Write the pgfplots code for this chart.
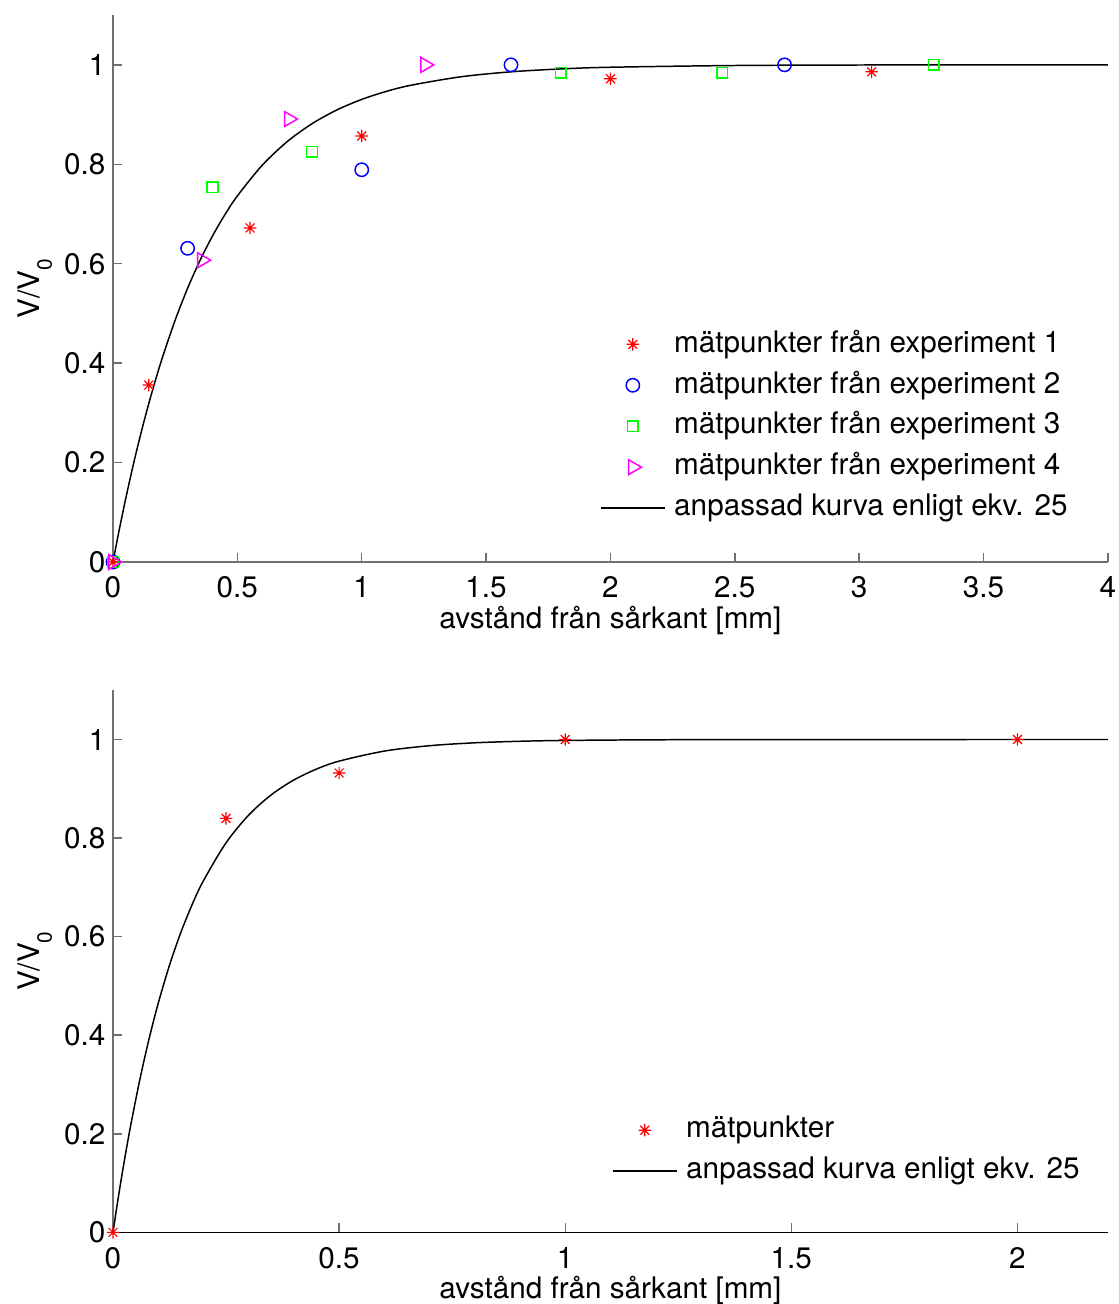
\documentclass[border=0pt]{standalone}
\usepackage{fontspec}
\setmainfont{TeX Gyre Heros}
\usepackage{pgfplots}
\pgfplotsset{compat=1.18}

\definecolor{axgray}{RGB}{112,112,112}
\definecolor{mred}{RGB}{255,0,0}
\definecolor{mblue}{RGB}{0,0,255}
\definecolor{mgreen}{RGB}{0,255,0}
\definecolor{mmag}{RGB}{255,0,255}

% matlab-like 8-spoke asterisk
\pgfdeclareplotmark{mstar}{%
  \pgfpathmoveto{\pgfpoint{-\pgfplotmarksize}{0pt}}%
  \pgfpathlineto{\pgfpoint{\pgfplotmarksize}{0pt}}%
  \pgfpathmoveto{\pgfpoint{0pt}{-\pgfplotmarksize}}%
  \pgfpathlineto{\pgfpoint{0pt}{\pgfplotmarksize}}%
  \pgfpathmoveto{\pgfpoint{-0.7071\pgfplotmarksize}{-0.7071\pgfplotmarksize}}%
  \pgfpathlineto{\pgfpoint{0.7071\pgfplotmarksize}{0.7071\pgfplotmarksize}}%
  \pgfpathmoveto{\pgfpoint{-0.7071\pgfplotmarksize}{0.7071\pgfplotmarksize}}%
  \pgfpathlineto{\pgfpoint{0.7071\pgfplotmarksize}{-0.7071\pgfplotmarksize}}%
  \pgfusepathqstroke}

\pgfplotsset{
  mleg/.style={legend image code/.code={%
    \draw[mark repeat=2,mark phase=2,##1] plot coordinates {(0pt,0pt) (10.7pt,0pt) (21.4pt,0pt)};}},
  lleg/.style={legend image code/.code={\draw[##1] (0pt,0pt) -- (21.4pt,0pt);}},
  base/.style={
    scale only axis, width=335.3pt,
    xmin=0, ymin=0, ymax=1.1,
    axis lines=left, axis line style={-, axgray, line width=0.5pt},
    tick align=inside, major tick length=3.2pt,
    tick style={axgray, line width=0.5pt},
    ytick={0,0.2,0.4,0.6,0.8,1},
    /pgf/number format/assume math mode=true,
    tick label style={font=\fontsize{10}{12}\selectfont, black},
    xticklabel style={yshift=-1.4pt},
    yticklabel style={xshift=1pt},
    label style={font=\fontsize{10}{12}\selectfont},
    ylabel={V/V\raisebox{-4pt}{\fontsize{7}{8}\selectfont 0}},
    xlabel={avstånd från sårkant [mm]},
    ylabel style={at={(axis description cs:-0.0734,0.5)}, anchor=base},
    legend cell align=left,
    legend style={draw=none, fill=none, inner sep=0pt, row sep=0pt,
      font=\fontsize{10}{12}\selectfont,
      nodes={inner xsep=3pt, inner ysep=2.1pt, text height=7.4pt, text depth=2.2pt}},
    every axis plot/.append style={line width=0.5pt},
    star/.style={mark=mstar, mark size=2.1pt, mark options={line width=0.4pt}, mred},
  },
}

\begin{document}
\begin{tikzpicture}
\begin{axis}[base, name=top, height=184.3pt, xmax=4,
  xtick={0,0.5,1,1.5,2,2.5,3,3.5,4},
  xlabel style={at={(axis description cs:0.5,-0.121)}, anchor=base},
  legend style={at={(0.969,0.060)}, anchor=south east}]
 \addplot[only marks, mleg, star] coordinates {
  (0,0) (0.144,0.356) (0.551,0.672) (1.0,0.857) (2.0,0.972) (3.05,0.986)};
 \addlegendentry{mätpunkter från experiment 1}
 \addplot[only marks, mleg, mark=o, mark size=2.25pt, mblue] coordinates {
  (0,0) (0.30,0.631) (1.0,0.789) (1.6,1.0) (2.7,1.0)};
 \addlegendentry{mätpunkter från experiment 2}
 \addplot[only marks, mleg, mark=square, mark size=1.8pt, mgreen] coordinates {
  (0,0) (0.40,0.754) (0.80,0.825) (1.8,0.984) (2.45,0.984) (3.3,1.0)};
 \addlegendentry{mätpunkter från experiment 3}
 \addplot[only marks, mleg, mark=triangle, mark size=2.9pt, mark options={rotate=-90}, mmag] coordinates {
  (0,0) (0.358,0.607) (0.707,0.891) (1.255,1.0)};
 \addlegendentry{mätpunkter från experiment 4}
 \addplot[lleg, black, no marks, smooth] coordinates {
  (0,0) (0.025,0.0645) (0.05,0.1248) (0.075,0.1813) (0.1,0.2341) (0.125,0.2835)
  (0.15,0.3297) (0.175,0.3729) (0.2,0.4134) (0.25,0.4866) (0.3,0.5507) (0.35,0.6068)
  (0.4,0.6558) (0.45,0.6988) (0.5,0.7364) (0.6,0.7981) (0.7,0.8454) (0.8,0.8816)
  (0.9,0.9093) (1.0,0.9305) (1.1,0.9468) (1.2,0.9592) (1.4,0.9761) (1.6,0.9860)
  (1.8,0.9918) (2.0,0.9952) (2.5,0.9987) (3.0,0.9997) (3.5,0.9999) (4.0,1.0)};
 \addlegendentry{anpassad kurva enligt ekv. 25}
\end{axis}

\begin{axis}[base, name=bot, at={(0pt,-225.9pt)}, anchor=south west,
  height=182.7pt, xmax=2.2,
  xtick={0,0.5,1,1.5,2},
  x axis line style={black},
  xlabel style={at={(axis description cs:0.5,-0.122)}, anchor=base},
  legend style={at={(0.981,0.074)}, anchor=south east}]
 \addplot[only marks, mleg, star] coordinates {
  (0,0) (0.25,0.840) (0.5,0.932) (1.0,1.0) (2.0,1.0)};
 \addlegendentry{mätpunkter}
 \addplot[lleg, black, no marks, smooth] coordinates {
  (0,0) (0.01,0.0606) (0.02,0.1175) (0.03,0.1710) (0.04,0.2212) (0.06,0.3127)
  (0.08,0.3935) (0.1,0.4647) (0.125,0.5422) (0.15,0.6084) (0.175,0.6651)
  (0.2,0.7135) (0.25,0.7904) (0.3,0.8466) (0.35,0.8878) (0.4,0.9179)
  (0.45,0.9400) (0.5,0.9561) (0.6,0.9765) (0.7,0.9874) (0.8,0.9933)
  (0.9,0.9964) (1.0,0.9981) (1.2,0.9994) (1.5,0.9999) (2.2,1.0)};
 \addlegendentry{anpassad kurva enligt ekv. 25}
\end{axis}
\pgfresetboundingbox
\useasboundingbox (-38.08pt,-250.05pt) rectangle (339.0pt,189.4pt);
\end{tikzpicture}
\end{document}
